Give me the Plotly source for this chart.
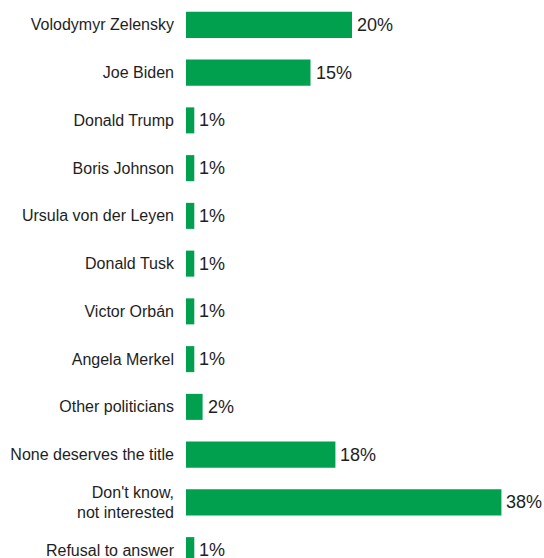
import plotly.graph_objects as go

# Survey answers: who deserves the "politician of the year" title
categories = [
    "Volodymyr Zelensky",
    "Joe Biden",
    "Donald Trump",
    "Boris Johnson",
    "Ursula von der Leyen",
    "Donald Tusk",
    "Victor Orbán",
    "Angela Merkel",
    "Other politicians",
    "None deserves the title",
    "Don't know,<br>not interested",
    "Refusal to answer",
]
shares = [20, 15, 1, 1, 1, 1, 1, 1, 2, 18, 38, 1]

GREEN = "#00a04f"
TEXT = "#1e1e1e"
FONT = "Liberation Sans, Arial, sans-serif"

fig = go.Figure(
    go.Bar(
        x=shares,
        y=categories,
        orientation="h",
        width=0.545,
        marker=dict(color=GREEN, line=dict(width=0)),
        hoverinfo="skip",
    )
)

# value labels just right of each bar end
for cat, val in zip(categories, shares):
    fig.add_annotation(
        x=val,
        y=cat,
        text=f"{val}%",
        xanchor="left",
        yanchor="middle",
        xshift=3,
        showarrow=False,
        font=dict(family=FONT, size=18, color=TEXT),
    )

fig.update_layout(
    width=544,
    height=558,
    margin=dict(l=186, r=0, t=1, b=0),
    paper_bgcolor="white",
    plot_bgcolor="white",
    showlegend=False,
    font=dict(family=FONT, size=16, color=TEXT),
    xaxis=dict(visible=False, range=[0, 43.13], fixedrange=True),
    yaxis=dict(
        type="category",
        range=[11.165, -0.5],
        showgrid=False,
        showline=False,
        zeroline=False,
        ticks="",
        ticklabelstandoff=11,
        tickfont=dict(family=FONT, size=16, color=TEXT),
        fixedrange=True,
    ),
)

fig.write_html("out.html")
